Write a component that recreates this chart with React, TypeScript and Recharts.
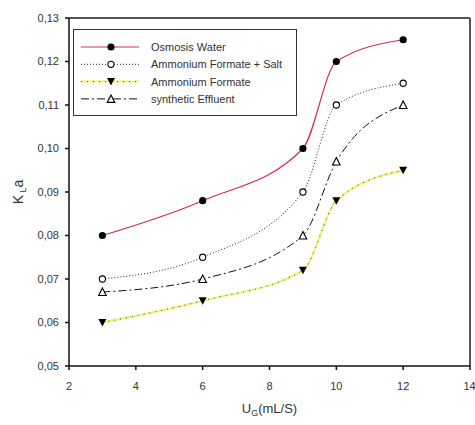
import {
  LineChart,
  Line,
  XAxis,
  YAxis,
  Legend,
  ReferenceLine,
} from "recharts";

const X_VALUES = [3, 6, 9, 10, 12];
const OSMOSIS_WATER = [0.08, 0.088, 0.1, 0.12, 0.125];
const FORMATE_SALT = [0.07, 0.075, 0.09, 0.11, 0.115];
const FORMATE = [0.06, 0.065, 0.072, 0.088, 0.095];
const SYNTHETIC = [0.067, 0.07, 0.08, 0.097, 0.11];

const X_TICKS = [2, 4, 6, 8, 10, 12, 14];
const Y_TICKS = [0.05, 0.06, 0.07, 0.08, 0.09, 0.1, 0.11, 0.12, 0.13];

const data = X_VALUES.map((x, i) => ({
  x,
  osmosis: OSMOSIS_WATER[i],
  salt: FORMATE_SALT[i],
  formate: FORMATE[i],
  synthetic: SYNTHETIC[i],
}));

const FONT = "'Liberation Sans', Arial, sans-serif";

// legend rows, same order as the reference
const SERIES = [
  { key: "osmosis", name: "Osmosis Water", color: "#cc3344", dash: undefined, under: undefined, shape: "circle" },
  { key: "salt", name: "Ammonium Formate + Salt", color: "#222", dash: "1 2", under: undefined, shape: "openCircle" },
  { key: "formate", name: "Ammonium Formate", color: "#444", dash: "1 5", under: "#f2f26a", shape: "triangleDown" },
  { key: "synthetic", name: "synthetic Effluent", color: "#111", dash: "8 3 2 3", under: undefined, shape: "openTriangle" },
];

const Marker = ({ cx, cy, shape }: any) => {
  if (cx == null || cy == null) return null;
  if (shape === "circle") return <circle cx={cx} cy={cy} r={3.6} fill="#000" />;
  if (shape === "openCircle")
    return <circle cx={cx} cy={cy} r={3.1} fill="#fff" stroke="#000" strokeWidth={1.1} />;
  if (shape === "triangleDown")
    return <path d={`M${cx - 4},${cy - 3.5} L${cx + 4},${cy - 3.5} L${cx},${cy + 4} Z`} fill="#000" />;
  return (
    <path
      d={`M${cx},${cy - 4} L${cx + 3.8},${cy + 3.5} L${cx - 3.8},${cy + 3.5} Z`}
      fill="#fff"
      stroke="#000"
      strokeWidth={1.1}
    />
  );
};

const LegendBox = () => (
  <div
    style={{
      width: 222,
      height: 85,
      border: "1.5px solid #333",
      background: "#fff",
      fontFamily: FONT,
      fontSize: 11,
      color: "#333",
      position: "relative",
    }}
  >
    <svg width={75} height={85} style={{ position: "absolute", left: 0, top: 0 }}>
      {SERIES.map((s, i) => {
        const y = 17 + i * 17.3;
        return (
          <g key={s.key}>
            {s.under && <line x1={7} x2={65} y1={y} y2={y} stroke={s.under} strokeWidth={2} />}
            <line x1={7} x2={65} y1={y} y2={y} stroke={s.color} strokeWidth={1} strokeDasharray={s.dash} />
            <Marker cx={37} cy={y} shape={s.shape} />
          </g>
        );
      })}
    </svg>
    {SERIES.map((s, i) => (
      <div
        key={s.key}
        style={{ position: "absolute", left: 77, top: 17 + i * 17.3 - 7, lineHeight: "14px", whiteSpace: "nowrap" }}
      >
        {s.name}
      </div>
    ))}
  </div>
);

const fmt = (v: number) => v.toFixed(2).replace(".", ",");

const XLabel = ({ viewBox }: any) => (
  <text
    x={viewBox.x + viewBox.width / 2}
    y={viewBox.y + 47}
    textAnchor="middle"
    fontSize={13}
    fontFamily={FONT}
    fill="#333"
  >
    U
    <tspan dy={3} fontSize={9}>G</tspan>
    <tspan dy={-3}>(mL/S)</tspan>
  </text>
);

const YLabel = ({ viewBox }: any) => {
  const cx = 23;
  const cy = viewBox.y + viewBox.height / 2;
  return (
    <text
      x={cx}
      y={cy}
      transform={`rotate(-90, ${cx}, ${cy})`}
      textAnchor="middle"
      fontSize={14}
      fontFamily={FONT}
      fill="#333"
    >
      K
      <tspan dy={3} fontSize={9}> L</tspan>
      <tspan dy={-3}>a</tspan>
    </text>
  );
};

export default function App() {
  return (
    <div style={{ position: "absolute", left: 0, top: 0, background: "#fff" }}>
      <LineChart
        width={475}
        height={425}
        data={data}
        margin={{ top: 18, right: 5, bottom: 29, left: 0 }}
      >
        <XAxis
          dataKey="x"
          type="number"
          domain={[2, 14]}
          ticks={X_TICKS}
          height={30}
          tickSize={4}
          tickMargin={12}
          stroke="#111"
          strokeWidth={1.5}
          tick={{ fontSize: 11, fill: "#333", fontFamily: FONT }}
          label={{ content: XLabel }}
        />
        <YAxis
          type="number"
          domain={[0.05, 0.13]}
          ticks={Y_TICKS}
          width={69}
          tickSize={4}
          tickMargin={6}
          stroke="#111"
          strokeWidth={1.5}
          tickFormatter={fmt}
          tick={{ fontSize: 11, fill: "#333", fontFamily: FONT }}
          label={{ content: YLabel }}
        />
        <ReferenceLine y={0.13} stroke="#555" strokeWidth={2} />
        <ReferenceLine x={14} stroke="#555" strokeWidth={2} />
        <Legend
          layout="vertical"
          align="center"
          verticalAlign="middle"
          content={LegendBox}
          wrapperStyle={{ left: 73, top: 29, width: 225, height: 88 }}
        />
        <Line
          dataKey="formate"
          type="monotone"
          stroke="#f2f26a"
          strokeWidth={2}
          dot={false}
          legendType="none"
          isAnimationActive={false}
        />
        {SERIES.map((s) => (
          <Line
            key={s.key}
            dataKey={s.key}
            name={s.name}
            type="monotone"
            stroke={s.color}
            strokeWidth={s.key === "osmosis" ? 1.2 : 1}
            strokeDasharray={s.dash}
            dot={(p: any) => <Marker key={p.index} cx={p.cx} cy={p.cy} shape={s.shape} />}
            activeDot={false}
            isAnimationActive={false}
          />
        ))}
      </LineChart>
    </div>
  );
}
